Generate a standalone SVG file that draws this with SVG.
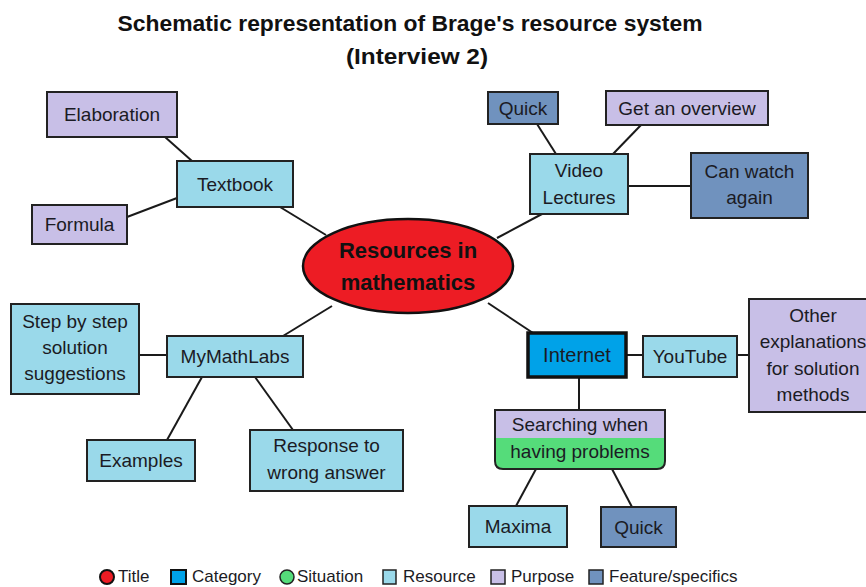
<svg xmlns="http://www.w3.org/2000/svg" width="866" height="587" viewBox="0 0 866 587">
  <style>
    .box { stroke: #222; stroke-width: 2; }
    .res { fill: #9ad9ea; }
    .pur { fill: #c8bfe7; }
    .feat { fill: #7092be; }
    .cat { fill: #00a2e8; }
    .sit { fill: #55dc7a; }
    .lbl { font-family: "Liberation Sans", Arial, sans-serif; font-size: 19px; fill: #1b1b24; text-anchor: middle; }
    .title { font-family: "Liberation Sans", Arial, sans-serif; font-size: 22px; font-weight: bold; fill: #111; text-anchor: middle; }
    .core { font-family: "Liberation Sans", Arial, sans-serif; font-size: 22px; font-weight: bold; fill: #111; text-anchor: middle; }
    .leg { font-family: "Liberation Sans", Arial, sans-serif; font-size: 17px; fill: #1b1b24; }
    .edge { stroke: #1a1a1a; stroke-width: 2; fill: none; }
  </style>
  <rect width="866" height="587" fill="#ffffff"/>

  <!-- heading -->
  <text class="title" x="410" y="31" textLength="585" lengthAdjust="spacingAndGlyphs">Schematic representation of Brage's resource system</text>
  <text class="title" x="417" y="64" textLength="142" lengthAdjust="spacingAndGlyphs">(Interview 2)</text>

  <!-- connectors -->
  <g id="connectors" class="edge">
    <line x1="165" y1="137" x2="192" y2="161"/>
    <line x1="127" y1="217" x2="177" y2="198"/>
    <line x1="280" y1="207" x2="326" y2="235"/>
    <line x1="537" y1="124" x2="556" y2="154"/>
    <line x1="641" y1="125" x2="613" y2="154"/>
    <line x1="628" y1="186" x2="691" y2="186"/>
    <line x1="542" y1="214" x2="497" y2="238"/>
    <line x1="488" y1="303" x2="533" y2="333"/>
    <line x1="626" y1="355" x2="643" y2="355"/>
    <line x1="737" y1="355" x2="749" y2="355"/>
    <line x1="579" y1="377" x2="579" y2="410"/>
    <line x1="536" y1="469" x2="516" y2="506"/>
    <line x1="612" y1="469" x2="632" y2="507"/>
    <line x1="283" y1="336" x2="332" y2="306"/>
    <line x1="139" y1="355" x2="167" y2="355"/>
    <line x1="202" y1="377" x2="167" y2="440"/>
    <line x1="255" y1="377" x2="293" y2="430"/>
  </g>

  <!-- central title node -->
  <g id="core">
    <ellipse cx="408" cy="266" rx="105" ry="47" fill="#ed1c24" stroke="#111" stroke-width="2.5"/>
    <text class="core" x="408" y="258">Resources in</text>
    <text class="core" x="408" y="290">mathematics</text>
  </g>

  <!-- textbook branch -->
  <g id="elaboration">
    <rect class="box pur" x="47" y="92" width="130" height="45"/>
    <text class="lbl" x="112" y="121">Elaboration</text>
  </g>
  <g id="textbook">
    <rect class="box res" x="177" y="161" width="116" height="46"/>
    <text class="lbl" x="235" y="191">Textbook</text>
  </g>
  <g id="formula">
    <rect class="box pur" x="32" y="205" width="95" height="39"/>
    <text class="lbl" x="79.5" y="231">Formula</text>
  </g>

  <!-- video lectures branch -->
  <g id="video-quick">
    <rect class="box feat" x="488" y="92" width="70" height="32"/>
    <text class="lbl" x="523" y="115">Quick</text>
  </g>
  <g id="overview">
    <rect class="box pur" x="606" y="91" width="162" height="34"/>
    <text class="lbl" x="687" y="115">Get an overview</text>
  </g>
  <g id="video-lectures">
    <rect class="box res" x="530" y="154" width="98" height="60"/>
    <text class="lbl" x="579" y="177">Video</text>
    <text class="lbl" x="579" y="204">Lectures</text>
  </g>
  <g id="watch-again">
    <rect class="box feat" x="691" y="153" width="117" height="65"/>
    <text class="lbl" x="749.5" y="178">Can watch</text>
    <text class="lbl" x="749.5" y="204">again</text>
  </g>

  <!-- internet branch -->
  <g id="internet">
    <rect class="cat" x="528" y="333" width="98" height="44" stroke="#111" stroke-width="3.5"/>
    <text class="lbl" x="577" y="362" style="font-size:20px">Internet</text>
  </g>
  <g id="youtube">
    <rect class="box res" x="643" y="336" width="94" height="41"/>
    <text class="lbl" x="690" y="363">YouTube</text>
  </g>
  <g id="other-explanations">
    <rect class="box pur" x="749" y="299" width="130" height="113"/>
    <text class="lbl" x="813" y="322">Other</text>
    <text class="lbl" x="813" y="348">explanations</text>
    <text class="lbl" x="813" y="375">for solution</text>
    <text class="lbl" x="813" y="401">methods</text>
  </g>
  <g id="searching">
    <path class="sit" d="M495 438 H665 V461 Q665 469 657 469 H503 Q495 469 495 461 Z"/>
    <rect class="pur" x="495" y="410" width="170" height="28"/>
    <path d="M495 410 H665 V461 Q665 469 657 469 H503 Q495 469 495 461 Z" fill="none" stroke="#222" stroke-width="2"/>
    <text class="lbl" x="580" y="431">Searching when</text>
    <text class="lbl" x="580" y="458">having problems</text>
  </g>
  <g id="maxima">
    <rect class="box res" x="469" y="506" width="98" height="41"/>
    <text class="lbl" x="518" y="533">Maxima</text>
  </g>
  <g id="internet-quick">
    <rect class="box feat" x="601" y="507" width="75" height="40"/>
    <text class="lbl" x="638.5" y="534">Quick</text>
  </g>

  <!-- MyMathLabs branch -->
  <g id="step-by-step">
    <rect class="box res" x="11" y="304" width="128" height="90"/>
    <text class="lbl" x="75" y="328">Step by step</text>
    <text class="lbl" x="75" y="354">solution</text>
    <text class="lbl" x="75" y="380">suggestions</text>
  </g>
  <g id="mymathlabs">
    <rect class="box res" x="167" y="336" width="136" height="41"/>
    <text class="lbl" x="235" y="363">MyMathLabs</text>
  </g>
  <g id="examples">
    <rect class="box res" x="87" y="440" width="108" height="41"/>
    <text class="lbl" x="141" y="467">Examples</text>
  </g>
  <g id="response">
    <rect class="box res" x="250" y="430" width="153" height="61"/>
    <text class="lbl" x="326.5" y="452">Response to</text>
    <text class="lbl" x="326.5" y="479">wrong answer</text>
  </g>

  <!-- legend -->
  <g id="legend">
    <circle cx="107" cy="577" r="7" fill="#ed1c24" stroke="#111" stroke-width="2"/>
    <text class="leg" x="118" y="582">Title</text>
    <rect x="171" y="570" width="15" height="14" fill="#00a2e8" stroke="#111" stroke-width="2"/>
    <text class="leg" x="192" y="582">Category</text>
    <circle cx="287" cy="577" r="7" fill="#55dc7a" stroke="#222" stroke-width="1.5"/>
    <text class="leg" x="297" y="582">Situation</text>
    <rect x="383" y="570" width="13" height="14" fill="#9ad9ea" stroke="#222" stroke-width="1.5"/>
    <text class="leg" x="403" y="582">Resource</text>
    <rect x="491" y="570" width="14" height="14" fill="#c8bfe7" stroke="#222" stroke-width="1.5"/>
    <text class="leg" x="511" y="582">Purpose</text>
    <rect x="589" y="570" width="14" height="14" fill="#7092be" stroke="#222" stroke-width="1.5"/>
    <text class="leg" x="609" y="582">Feature/specifics</text>
  </g>
</svg>
